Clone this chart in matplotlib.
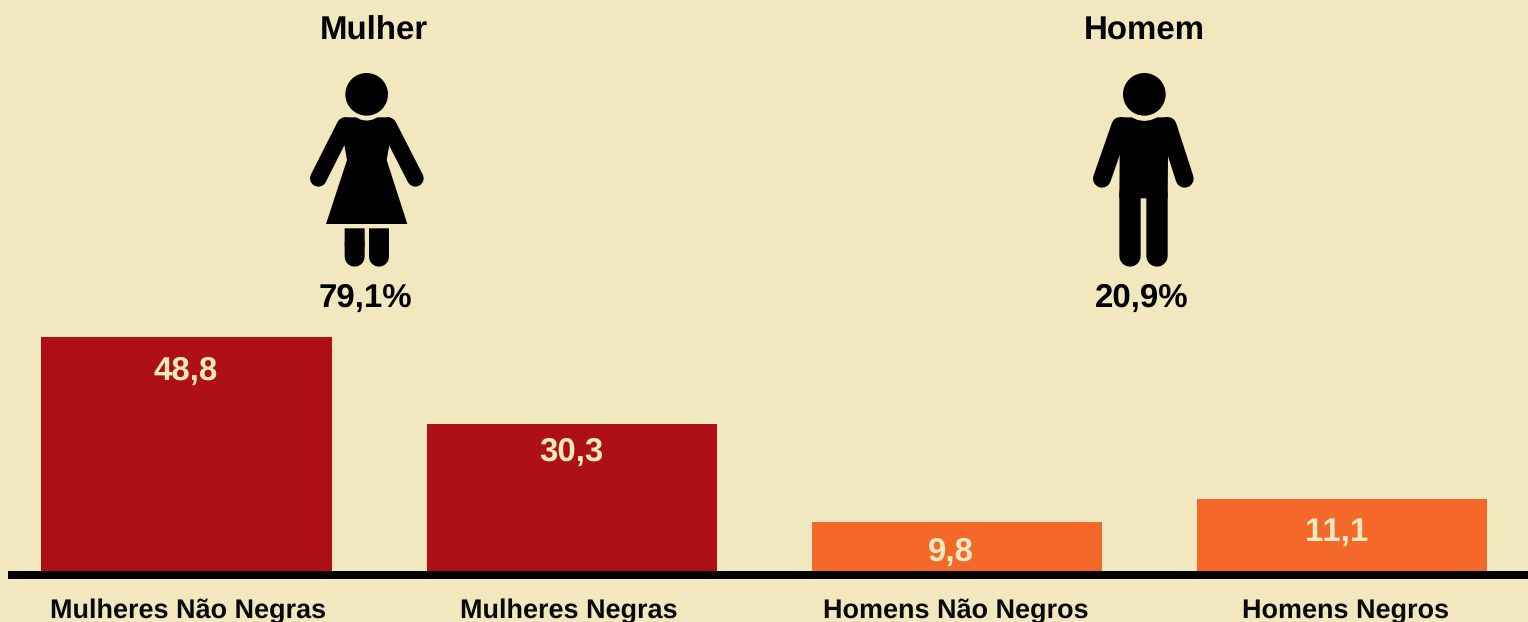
import matplotlib
matplotlib.use("Agg")
import matplotlib.pyplot as plt
from matplotlib.patches import Circle, Polygon
from matplotlib.lines import Line2D
from matplotlib.transforms import ScaledTranslation

# ---- data ----
categories = ["Mulheres Não Negras", "Mulheres Negras", "Homens Não Negros", "Homens Negros"]
value_labels = ["48,8", "30,3", "9,8", "11,1"]
# drawn bar heights (the last ones are not to scale with their labels)
bar_heights = [48.8, 30.66, 10.2, 15.0]
group_titles = ["Mulher", "Homem"]
group_shares = ["79,1%", "20,9%"]

# ---- style ----
BG = "#F2E8C0"
RED = "#AE1015"
ORANGE = "#F4682A"
CREAM = "#F3E9C1"
bar_colors = [RED, RED, ORANGE, ORANGE]
plt.rcParams["font.family"] = ["Liberation Sans", "DejaVu Sans"]
plt.rcParams["font.weight"] = "bold"
plt.rcParams["text.kerning_factor"] = 12
plt.rcParams["text.hinting"] = "no_hinting"
plt.rcParams["text.hinting_factor"] = 1

W, H, DPI = 1528, 622, 100
fig = plt.figure(figsize=(W / DPI, H / DPI), dpi=DPI, facecolor=BG)

# ---- bar axes: x 8..1528 px, y 571..0 px ----
ax = fig.add_axes([8 / W, (H - 571) / H, 1520 / W, 571 / H], facecolor="none")
STEP = 385.0
C0 = 186.5
ax.set_xlim((8 - C0) / STEP, (1528 - C0) / STEP)
ax.set_ylim(0, 571 / 4.795)
x = range(len(categories))
ax.bar(x, bar_heights, width=290 / STEP, color=bar_colors, linewidth=0)
for s in ("top", "left", "right"):
    ax.spines[s].set_visible(False)
ax.spines["bottom"].set_linewidth(8 * 72 / DPI)
ax.spines["bottom"].set_position(("outward", 4 * 72 / DPI))
ax.spines["bottom"].set_capstyle("butt")
ax.set_yticks([])
ax.set_xticks(list(x))
ax.set_xticklabels(categories, fontsize=19.6, fontweight="bold", color="#0A0A0A", va="baseline")
ax.tick_params(axis="x", length=0, pad=31)
label_dx = [1.5, -3, -1, 4]
for lab, dx in zip(ax.get_xticklabels(), label_dx):
    lab.set_transform(lab.get_transform() + ScaledTranslation(dx / DPI, 0, fig.dpi_scale_trans))

# value labels: baseline offset (px) below the bar top
label_drop = [43, 37, 39, 42]
label_shift = [-0.5, -0.5, -5.5, -4]
for i, (h, txt) in enumerate(zip(bar_heights, value_labels)):
    ax.annotate(txt, xy=(i, h), xytext=(label_shift[i], -label_drop[i]), textcoords="offset pixels",
                ha="center", va="baseline", fontsize=23.7, fontweight="bold", color=CREAM)

# ---- overlay in pixel coordinates for the pictograms and group headings ----
ov = fig.add_axes([0, 0, 1, 1], facecolor="none")
ov.set_xlim(0, W)
ov.set_ylim(H, 0)
ov.axis("off")

for t, s, xc_t, xc_s in zip(group_titles, group_shares, [373.5, 1144], [365.5, 1142]):
    ov.text(xc_t, 40, t, ha="center", va="baseline", fontsize=23.9, fontweight="bold", color="black")
    ov.text(xc_s, 307, s, ha="center", va="baseline", fontsize=23.7, fontweight="bold", color="black")


def to_px(pts, ox):
    return [(ox + a / 3, 60 + b / 3) for a, b in pts]


def limb(pts, ox, width):
    p = to_px(pts, ox)
    ln = Line2D([q[0] for q in p], [q[1] for q in p], color="black",
                lw=width / 3 * 72 / DPI, solid_capstyle="round")
    ln.set_snap(False)
    ov.add_line(ln)


def poly(pts, ox):
    pg = Polygon(to_px(pts, ox), closed=True, fc="black", ec="none")
    pg.set_snap(False)
    ov.add_patch(pg)


def head(c, ox):
    (cx, cy), = to_px([c], ox)
    ov.add_patch(Circle((cx, cy), 64 / 3, fc="black", ec="none"))


# woman
O1 = 290
head((230, 103), O1)
poly([(160, 172), (198, 172), (212, 179), (230, 182), (248, 179), (262, 172), (300, 172),
      (298, 255), (290, 300), (352, 492), (108, 492), (171, 300), (163, 255)], O1)
limb([(165, 197), (85, 355)], O1, 50)
limb([(295, 197), (376, 355)], O1, 50)
limb([(194, 550), (194, 590)], O1, 60)
limb([(267, 550), (267, 590)], O1, 60)
poly([(164, 505), (224, 505), (224, 560), (164, 560)], O1)
poly([(237, 505), (297, 505), (297, 560), (237, 560)], O1)

# man
O2 = 1070
head((223, 103), O2)
poly([(150, 172), (185, 172), (203, 180), (223, 183), (243, 180), (262, 172), (295, 172),
      (293, 415), (148, 415)], O2)
limb([(151, 198), (96, 356)], O2, 54)
limb([(293, 198), (344, 356)], O2, 54)
limb([(180, 400), (180, 588)], O2, 64)
limb([(261, 400), (261, 588)], O2, 64)

fig.savefig("out.png", dpi=DPI, facecolor=BG)
